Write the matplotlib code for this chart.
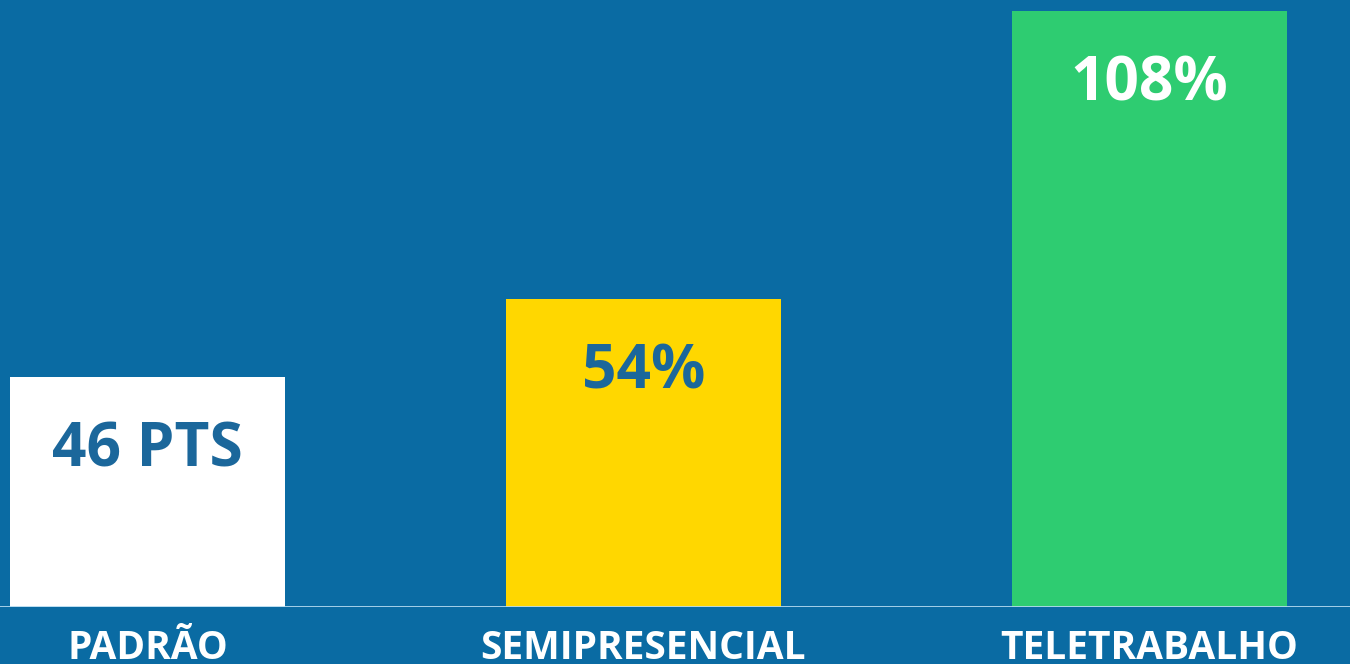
import numpy as np
import matplotlib
matplotlib.use("Agg")
import matplotlib.pyplot as plt
import matplotlib.transforms as mtransforms

# work regime categories and bar heights (base of 46 points)
categories = ["PADRÃO", "SEMIPRESENCIAL", "TELETRABALHO"]
bar_heights = [46, 61.6, 119.2]
bar_labels = ["46 PTS", "54%", "108%"]

BG = "#0a6ba3"
bar_colors = ["#ffffff", "#ffd700", "#2ecc71"]
label_colors = ["#1b679b", "#1b679b", "#ffffff"]

plt.rcParams["font.family"] = ["Open Sans", "DejaVu Sans"]

fig = plt.figure(figsize=(13.5, 6.64), dpi=100, facecolor=BG)
ax = fig.add_axes([0, 57 / 664, 1, 607 / 664])
ax.set_facecolor(BG)

# bar centres in pixel-like units across the width
x = np.array([147.5, 643.5, 1149.5])
ax.bar(x, bar_heights, width=275, color=bar_colors, zorder=2)

# baseline under the bars
ax.axhline(0, color="#b4daf0", lw=2, zorder=3)

ax.set_xlim(0, 1350)
ax.set_ylim(0, 121.4)

# value labels sit a fixed distance below each bar top
for xi, h, txt, c in zip(x, bar_heights, bar_labels, label_colors):
    ax.annotate(txt, xy=(xi, h), xytext=(0, -53), textcoords="offset points",
                ha="center", va="center", fontsize=43.5, fontweight="bold",
                color=c, zorder=4)

# category names under the baseline
trans = mtransforms.blended_transform_factory(ax.transData, ax.transAxes)
for xi, name in zip(x, categories):
    ax.text(xi, -52 / 607, name, transform=trans, ha="center", va="baseline",
            fontsize=28, fontweight="bold", color="#ffffff", clip_on=False)

ax.axis("off")
fig.savefig("out.png", dpi=100, facecolor=BG)
